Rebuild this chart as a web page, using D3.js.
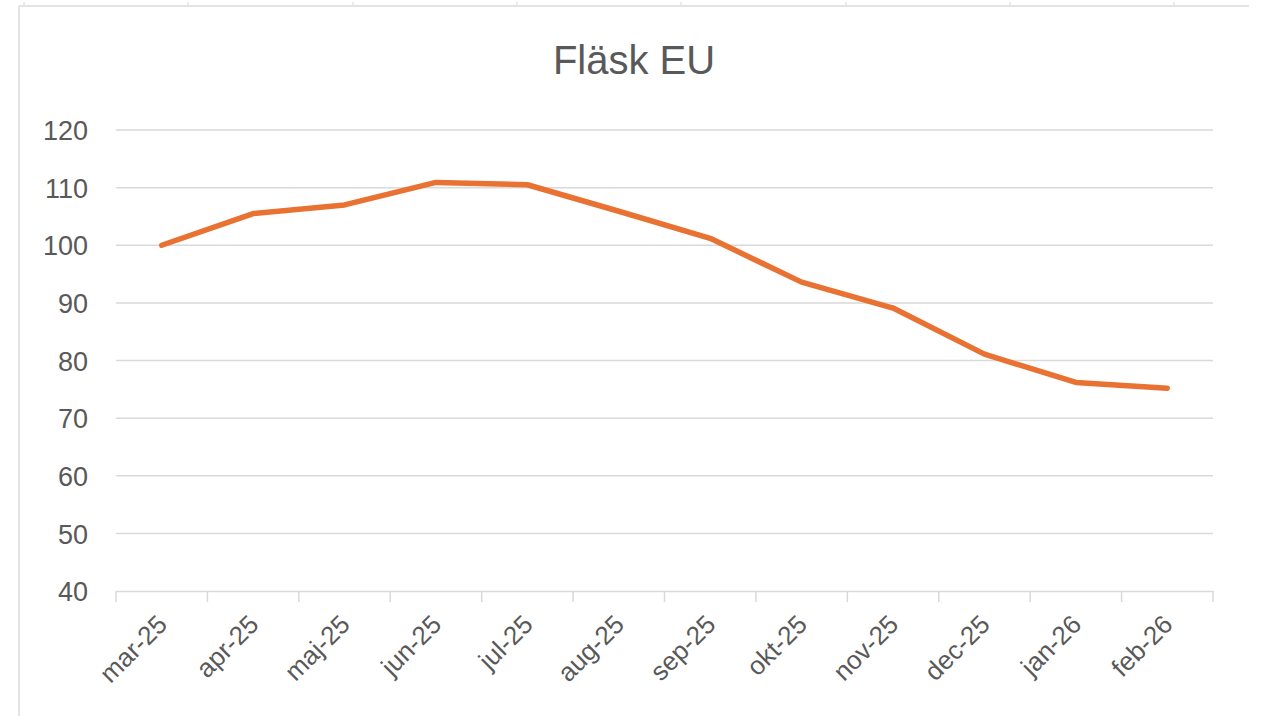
<!DOCTYPE html>
<html>
<head>
<meta charset="utf-8">
<script src="https://cdn.jsdelivr.net/npm/d3@7"></script>
<style>
  body { margin: 0; background: #fff; }
  svg text { font-family: "Liberation Sans", Arial, sans-serif; fill: #595959; }
</style>
</head>
<body>
<div id="chart"></div>
<script>
const title = "Fläsk EU";
const months = ["mar-25", "apr-25", "maj-25", "jun-25", "jul-25", "aug-25",
                "sep-25", "okt-25", "nov-25", "dec-25", "jan-26", "feb-26"];
const values = [100, 105.5, 107.0, 110.9, 110.5, 105.9, 101.2, 93.6, 89.1, 81.1, 76.2, 75.2];
const yTicks = [40, 50, 60, 70, 80, 90, 100, 110, 120];

const width = 1261, height = 716;
const margin = {top: 130, right: 48, bottom: 125, left: 116};

const svg = d3.select("#chart").append("svg")
  .attr("width", width)
  .attr("height", height);

// frame of the embedded chart object
svg.append("line").attr("x1", 19).attr("x2", 1249).attr("y1", 6).attr("y2", 6)
  .attr("stroke", "#e3e3e3").attr("stroke-width", 2);
svg.append("line").attr("x1", 19).attr("x2", 19).attr("y1", 6).attr("y2", height)
  .attr("stroke", "#e3e3e3").attr("stroke-width", 2);
svg.selectAll(".cell").data([24, 188, 353, 517, 681, 846, 1010, 1174])
  .enter().append("line")
  .attr("x1", d => d).attr("x2", d => d).attr("y1", 2).attr("y2", 6)
  .attr("stroke", "#e3e3e3").attr("stroke-width", 1.5);

const x = d3.scaleBand()
  .domain(months)
  .range([margin.left, width - margin.right]);

const y = d3.scaleLinear()
  .domain([40, 120])
  .range([height - margin.bottom, margin.top]);

// title
svg.append("text")
  .attr("x", 634)
  .attr("y", 74)
  .attr("text-anchor", "middle")
  .style("font-size", "40px")
  .text(title);

// gridlines
svg.append("g")
  .selectAll("line")
  .data(yTicks.filter(d => d > 40))
  .enter().append("line")
  .attr("x1", x.range()[0])
  .attr("x2", x.range()[1])
  .attr("y1", d => y(d))
  .attr("y2", d => y(d))
  .attr("stroke", "#d9d9d9")
  .attr("stroke-width", 1.5);

// y axis labels
const yAxis = d3.axisLeft(y).tickValues(yTicks).tickSize(0).tickPadding(28);
svg.append("g")
  .attr("transform", `translate(${margin.left},0)`)
  .call(yAxis)
  .call(g => g.select(".domain").remove())
  .call(g => g.selectAll("text")
    .style("font-size", "27px")
    .attr("fill", "#595959")
    .attr("dy", "0.36em"));

// x axis
const xAxis = d3.axisBottom(x).tickSize(0).tickFormat("");
const gx = svg.append("g")
  .attr("transform", `translate(0,${y(40)})`)
  .call(xAxis);
gx.select(".domain").attr("stroke", "#d9d9d9").attr("stroke-width", 1.5);
gx.selectAll(".tick").remove();

// category boundary ticks
const bounds = months.map(m => x(m)).concat([x.range()[1]]);
gx.selectAll(".bound").data(bounds)
  .enter().append("line")
  .attr("x1", d => d).attr("x2", d => d)
  .attr("y1", 0).attr("y2", 11)
  .attr("stroke", "#d9d9d9").attr("stroke-width", 1.5);

// rotated category labels
gx.selectAll(".lbl").data(months)
  .enter().append("text")
  .attr("text-anchor", "end")
  .attr("transform", d => `translate(${x(d) + x.bandwidth() / 2 - 6},${22}) rotate(-45)`)
  .attr("dy", "0.71em")
  .style("font-size", "26px")
  .text(d => d);

// the series
const line = d3.line()
  .x((d, i) => x(months[i]) + x.bandwidth() / 2)
  .y(d => y(d));

svg.append("path")
  .datum(values)
  .attr("fill", "none")
  .attr("stroke", "#E97132")
  .attr("stroke-width", 5.5)
  .attr("stroke-linejoin", "round")
  .attr("stroke-linecap", "round")
  .attr("d", line);
</script>
</body>
</html>
